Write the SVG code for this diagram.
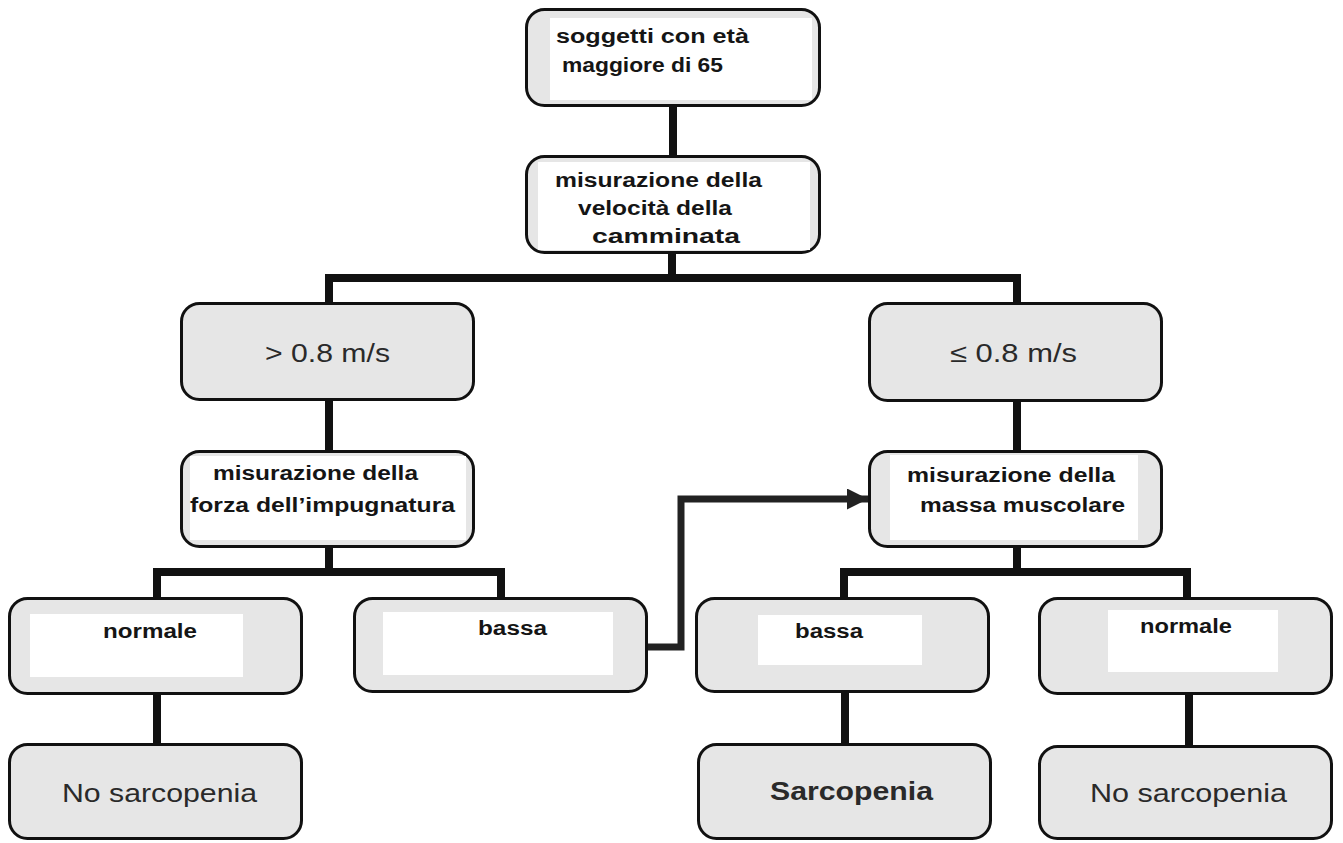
<svg xmlns="http://www.w3.org/2000/svg" width="1343" height="843" viewBox="0 0 1343 843">
<defs>
<style>
.box{fill:#e6e6e6;stroke:#111;stroke-width:3}
.inner{fill:#ffffff;stroke:none}
.conn{fill:none;stroke:#111;stroke-width:8;stroke-linecap:butt;stroke-linejoin:miter}
.arr{fill:none;stroke:#222;stroke-width:7;stroke-linejoin:miter}
.b{font-family:"Liberation Sans",Arial,sans-serif;font-weight:bold;font-size:20px;fill:#151515}
.r{font-family:"Liberation Sans",Arial,sans-serif;font-size:26px;fill:#2a2a2a}
.rb{font-family:"Liberation Sans",Arial,sans-serif;font-weight:bold;font-size:26px;fill:#2a2a2a}
</style>
<marker id="ah" viewBox="0 0 10 10" refX="10" refY="5" markerWidth="3.2" markerHeight="3" orient="auto" markerUnits="strokeWidth">
<path d="M0,0 L10,5 L0,10 Z" fill="#222"/>
</marker>
</defs>
<rect width="1343" height="843" fill="#ffffff"/>
<g id="connectors">
<path class="conn" d="M673,107 V155"/>
<path class="conn" d="M672,254 V278 M325,278 H1021 M329,278 V302 M1017,278 V302"/>
<path class="conn" d="M329,401 V450"/>
<path class="conn" d="M329,548 V572 M153,572 H505 M157,572 V597 M501,572 V597"/>
<path class="conn" d="M1017,402 V450"/>
<path class="conn" d="M1017,548 V572 M840,572 H1191 M844,572 V597 M1187,572 V597"/>
<path class="conn" d="M157,695 V743"/>
<path class="conn" d="M845,693 V743"/>
<path class="conn" d="M1189,695 V745"/>
<path class="arr" d="M648,647 H681 V499 H868" marker-end="url(#ah)"/>
</g>
<g id="n1">
<rect class="box" x="526.5" y="9.5" width="293" height="96" rx="18"/>
<rect class="inner" x="550" y="18" width="262" height="82"/>
<text class="b" x="556" y="43" textLength="193" lengthAdjust="spacingAndGlyphs">soggetti con età</text>
<text class="b" x="562" y="72" textLength="161" lengthAdjust="spacingAndGlyphs">maggiore di 65</text>
</g>
<g id="n2">
<rect class="box" x="526.5" y="156.5" width="293" height="96" rx="18"/>
<rect class="inner" x="538" y="162" width="272" height="88"/>
<text class="b" x="555" y="187" textLength="207" lengthAdjust="spacingAndGlyphs">misurazione della</text>
<text class="b" x="578" y="215" textLength="154" lengthAdjust="spacingAndGlyphs">velocità della</text>
<text class="b" x="592" y="243" textLength="148" lengthAdjust="spacingAndGlyphs">camminata</text>
</g>
<g id="n3">
<rect class="box" x="181.5" y="303.5" width="292" height="96" rx="18"/>
<text class="r" x="265" y="362" textLength="125" lengthAdjust="spacingAndGlyphs">&gt; 0.8 m/s</text>
</g>
<g id="n4">
<rect class="box" x="181.5" y="451.5" width="292" height="95" rx="18"/>
<rect class="inner" x="190" y="456" width="276" height="84"/>
<text class="b" x="213" y="480" textLength="205" lengthAdjust="spacingAndGlyphs">misurazione della</text>
<text class="b" x="190" y="512" textLength="265" lengthAdjust="spacingAndGlyphs">forza dell’impugnatura</text>
</g>
<g id="n5">
<rect class="box" x="869.5" y="303.5" width="292" height="97" rx="18"/>
<text class="r" x="950" y="362" textLength="127" lengthAdjust="spacingAndGlyphs">≤ 0.8 m/s</text>
</g>
<g id="n6">
<rect class="box" x="869.5" y="451.5" width="292" height="95" rx="18"/>
<rect class="inner" x="890" y="455" width="248" height="85"/>
<text class="b" x="907" y="482" textLength="208" lengthAdjust="spacingAndGlyphs">misurazione della</text>
<text class="b" x="920" y="512" textLength="205" lengthAdjust="spacingAndGlyphs">massa muscolare</text>
</g>
<g id="n7">
<rect class="box" x="9.5" y="598.5" width="292" height="95" rx="18"/>
<rect class="inner" x="30" y="614" width="213" height="63"/>
<text class="b" x="103" y="638" textLength="94" lengthAdjust="spacingAndGlyphs">normale</text>
</g>
<g id="n8">
<rect class="box" x="354.5" y="598.5" width="292" height="93" rx="18"/>
<rect class="inner" x="383" y="612" width="230" height="63"/>
<text class="b" x="478" y="635" textLength="69" lengthAdjust="spacingAndGlyphs">bassa</text>
</g>
<g id="n9">
<rect class="box" x="696.5" y="598.5" width="292" height="93" rx="18"/>
<rect class="inner" x="758" y="615" width="164" height="50"/>
<text class="b" x="795" y="638" textLength="68" lengthAdjust="spacingAndGlyphs">bassa</text>
</g>
<g id="n10">
<rect class="box" x="1039.5" y="598.5" width="292" height="95" rx="18"/>
<rect class="inner" x="1108" y="610" width="170" height="62"/>
<text class="b" x="1140" y="633" textLength="92" lengthAdjust="spacingAndGlyphs">normale</text>
</g>
<g id="n11">
<rect class="box" x="9.5" y="744.5" width="292" height="94" rx="18"/>
<text class="r" x="62" y="802" textLength="195" lengthAdjust="spacingAndGlyphs">No sarcopenia</text>
</g>
<g id="n12">
<rect class="box" x="698.5" y="744.5" width="292" height="94" rx="18"/>
<text class="rb" x="770" y="800" textLength="163" lengthAdjust="spacingAndGlyphs">Sarcopenia</text>
</g>
<g id="n13">
<rect class="box" x="1039.5" y="746.5" width="292" height="92" rx="18"/>
<text class="r" x="1090" y="802" textLength="197" lengthAdjust="spacingAndGlyphs">No sarcopenia</text>
</g>
</svg>
